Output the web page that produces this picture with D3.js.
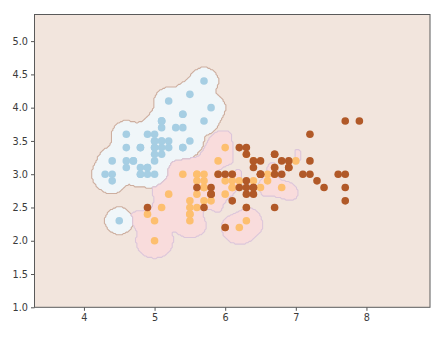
<!DOCTYPE html>
<html>
<head>
<meta charset="utf-8">
<script src="https://cdn.jsdelivr.net/npm/d3@7"></script>
<style>
  body { margin: 0; background: #fff; }
  svg { display: block; }
  .axis text { font-family: "DejaVu Sans", sans-serif; font-size: 9.7px; fill: #3a3a3a; }
  .axis line { stroke: #555; }
  .axis path { display: none; }
</style>
</head>
<body>
<svg id="chart" width="445" height="339"></svg>
<script>
// Iris: sepal length (x) vs sepal width (y), per species
const setosaLength = [5.1,4.9,4.7,4.6,5.0,5.4,4.6,5.0,4.4,4.9,5.4,4.8,4.8,4.3,5.8,5.7,5.4,5.1,5.7,5.1,5.4,5.1,4.6,5.1,4.8,5.0,5.0,5.2,5.2,4.7,4.8,5.4,5.2,5.5,4.9,5.0,5.5,4.9,4.4,5.1,5.0,4.5,4.4,5.0,5.1,4.8,5.1,4.6,5.3,5.0];
const setosaWidth = [3.5,3.0,3.2,3.1,3.6,3.9,3.4,3.4,2.9,3.1,3.7,3.4,3.0,3.0,4.0,4.4,3.9,3.5,3.8,3.8,3.4,3.7,3.6,3.3,3.4,3.0,3.4,3.5,3.4,3.2,3.1,3.4,4.1,4.2,3.1,3.2,3.5,3.6,3.0,3.4,3.5,2.3,3.2,3.5,3.8,3.0,3.8,3.2,3.7,3.3];
const versicolorLength = [7.0,6.4,6.9,5.5,6.5,5.7,6.3,4.9,6.6,5.2,5.0,5.9,6.0,6.1,5.6,6.7,5.6,5.8,6.2,5.6,5.9,6.1,6.3,6.1,6.4,6.6,6.8,6.7,6.0,5.7,5.5,5.5,5.8,6.0,5.4,6.0,6.7,6.3,5.6,5.5,5.5,6.1,5.8,5.0,5.6,5.7,5.7,6.2,5.1,5.7];
const versicolorWidth = [3.2,3.2,3.1,2.3,2.8,2.8,3.3,2.4,2.9,2.7,2.0,3.0,2.2,2.9,2.9,3.1,3.0,2.7,2.2,2.5,3.2,2.8,2.5,2.8,2.9,3.0,2.8,3.0,2.9,2.6,2.4,2.4,2.7,2.7,3.0,3.4,3.1,2.3,3.0,2.5,2.6,3.0,2.6,2.3,2.7,3.0,2.9,2.9,2.5,2.8];
const virginicaLength = [6.3,5.8,7.1,6.3,6.5,7.6,4.9,7.3,6.7,7.2,6.5,6.4,6.8,5.7,5.8,6.4,6.5,7.7,7.7,6.0,6.9,5.6,7.7,6.3,6.7,7.2,6.2,6.1,6.4,7.2,7.4,7.9,6.4,6.3,6.1,7.7,6.3,6.4,6.0,6.9,6.7,6.9,5.8,6.8,6.7,6.7,6.3,6.5,6.2,5.9];
const virginicaWidth = [3.3,2.7,3.0,2.9,3.0,3.0,2.5,2.9,2.5,3.6,3.2,2.7,3.0,2.5,2.8,3.2,3.0,3.8,2.6,2.2,3.2,2.8,2.8,2.7,3.3,3.2,2.8,3.0,2.8,3.0,2.8,3.8,2.8,2.8,2.6,3.0,3.4,3.1,3.0,3.1,3.1,3.1,2.7,3.2,3.3,3.0,2.5,3.0,3.4,3.0];

const xTicks = [4, 5, 6, 7, 8];
const yTicks = [1.0, 1.5, 2.0, 2.5, 3.0, 3.5, 4.0, 4.5, 5.0];

const pointColors = ["#a6cee3", "#fdbf6f", "#b15928"];
const regionFill = ["#f0f6f9", "#f9dcdc"];
const regionEdge = ["#cdae9f", "#dcc6da"];
const backgroundFill = "#f2e5dd";

// RBF SVM settings and mesh step
const gamma = 50, C = 1.0, step = 0.02;

const classes = [
  setosaLength.map((v, i) => [v, setosaWidth[i]]),
  versicolorLength.map((v, i) => [v, versicolorWidth[i]]),
  virginicaLength.map((v, i) => [v, virginicaWidth[i]])
];

const allX = [].concat(setosaLength, versicolorLength, virginicaLength);
const allY = [].concat(setosaWidth, versicolorWidth, virginicaWidth);
const xMin = d3.min(allX) - 1, xMax = d3.max(allX) + 1;
const yMin = d3.min(allY) - 1, yMax = d3.max(allY) + 1;

const svg = d3.select("#chart");
const margin = { left: 34.5, right: 15, top: 14.5, bottom: 31.7 };
const W = 445, H = 339;

const x = d3.scaleLinear().domain([xMin, xMax]).range([margin.left, W - margin.right]);
const y = d3.scaleLinear().domain([yMin, yMax]).range([H - margin.bottom, margin.top]);

function rbf(ax, ay, bx, by) {
  const dx = ax - bx, dy = ay - by;
  return Math.exp(-gamma * (dx * dx + dy * dy));
}

// Binary C-SVC solved with SMO (second-order working set selection)
function trainPair(pos, neg) {
  const pts = pos.concat(neg);
  const lab = pos.map(() => 1).concat(neg.map(() => -1));
  const n = pts.length;
  const K = [];
  for (let i = 0; i < n; i++) {
    K.push(new Float64Array(n));
    for (let j = 0; j < n; j++) K[i][j] = rbf(pts[i][0], pts[i][1], pts[j][0], pts[j][1]);
  }
  const a = new Float64Array(n);
  const G = new Float64Array(n).fill(-1);
  const eps = 1e-3, TAU = 1e-12;
  const isUp = t => a[t] >= C, isLow = t => a[t] <= 0;
  for (let iter = 0; iter < 200000; iter++) {
    let Gmax = -Infinity, i = -1;
    for (let t = 0; t < n; t++) {
      if (lab[t] === 1) { if (!isUp(t) && -G[t] >= Gmax) { Gmax = -G[t]; i = t; } }
      else { if (!isLow(t) && G[t] >= Gmax) { Gmax = G[t]; i = t; } }
    }
    let Gmax2 = -Infinity, j = -1, objMin = Infinity;
    for (let t = 0; t < n; t++) {
      if (lab[t] === 1) {
        if (!isLow(t)) {
          const gd = Gmax + G[t];
          if (G[t] >= Gmax2) Gmax2 = G[t];
          if (gd > 0 && i >= 0) {
            let q = 2 - 2 * K[i][t]; if (q <= 0) q = TAU;
            const od = -(gd * gd) / q;
            if (od <= objMin) { j = t; objMin = od; }
          }
        }
      } else {
        if (!isUp(t)) {
          const gd = Gmax - G[t];
          if (-G[t] >= Gmax2) Gmax2 = -G[t];
          if (gd > 0 && i >= 0) {
            let q = 2 - 2 * K[i][t]; if (q <= 0) q = TAU;
            const od = -(gd * gd) / q;
            if (od <= objMin) { j = t; objMin = od; }
          }
        }
      }
    }
    if (Gmax + Gmax2 < eps || j === -1) break;

    const oi = a[i], oj = a[j];
    const Qij = lab[i] * lab[j] * K[i][j];
    if (lab[i] !== lab[j]) {
      let q = 2 + 2 * Qij; if (q <= 0) q = TAU;
      const delta = (-G[i] - G[j]) / q;
      const diff = a[i] - a[j];
      a[i] += delta; a[j] += delta;
      if (diff > 0) { if (a[j] < 0) { a[j] = 0; a[i] = diff; } }
      else { if (a[i] < 0) { a[i] = 0; a[j] = -diff; } }
      if (diff > 0) { if (a[i] > C) { a[i] = C; a[j] = C - diff; } }
      else { if (a[j] > C) { a[j] = C; a[i] = C + diff; } }
    } else {
      let q = 2 - 2 * Qij; if (q <= 0) q = TAU;
      const delta = (G[i] - G[j]) / q;
      const sum = a[i] + a[j];
      a[i] -= delta; a[j] += delta;
      if (sum > C) { if (a[i] > C) { a[i] = C; a[j] = sum - C; } }
      else { if (a[j] < 0) { a[j] = 0; a[i] = sum; } }
      if (sum > C) { if (a[j] > C) { a[j] = C; a[i] = sum - C; } }
      else { if (a[i] < 0) { a[i] = 0; a[j] = sum; } }
    }
    const di = a[i] - oi, dj = a[j] - oj;
    for (let k = 0; k < n; k++) {
      G[k] += lab[i] * lab[k] * K[i][k] * di + lab[j] * lab[k] * K[j][k] * dj;
    }
  }
  // bias
  let ub = Infinity, lb = -Infinity, nFree = 0, sumFree = 0;
  for (let t = 0; t < n; t++) {
    const yG = lab[t] * G[t];
    if (isUp(t)) { if (lab[t] === -1) ub = Math.min(ub, yG); else lb = Math.max(lb, yG); }
    else if (isLow(t)) { if (lab[t] === 1) ub = Math.min(ub, yG); else lb = Math.max(lb, yG); }
    else { nFree++; sumFree += yG; }
  }
  const rho = nFree > 0 ? sumFree / nFree : (ub + lb) / 2;
  const sv = [];
  for (let t = 0; t < n; t++) if (a[t] > 0) sv.push({ px: pts[t][0], py: pts[t][1], coef: a[t] * lab[t] });
  return { sv, rho };
}

const pairs = [[0, 1], [0, 2], [1, 2]];
const models = pairs.map(([p, q]) => trainPair(classes[p], classes[q]));

// Predict on the mesh (one-vs-one voting)
const nx = Math.round((xMax - xMin) / step);
const ny = Math.round((yMax - yMin) / step);
const gx = d3.range(nx).map(i => xMin + i * step);
const gy = d3.range(ny).map(j => yMin + j * step);

const decisions = models.map(m => {
  const out = new Float64Array(nx * ny).fill(-m.rho);
  m.sv.forEach(s => {
    const ex = gx.map(v => Math.exp(-gamma * (v - s.px) * (v - s.px)));
    const ey = gy.map(v => Math.exp(-gamma * (v - s.py) * (v - s.py)));
    for (let r = 0; r < ny; r++) {
      const e = ey[r] * s.coef;
      if (Math.abs(e) < 1e-14) continue;
      const base = r * nx;
      for (let c = 0; c < nx; c++) out[base + c] += e * ex[c];
    }
  });
  return out;
});

const label = new Uint8Array(nx * ny);
for (let k = 0; k < nx * ny; k++) {
  const votes = [0, 0, 0];
  pairs.forEach(([p, q], m) => { if (decisions[m][k] > 0) votes[p]++; else votes[q]++; });
  let best = 0;
  for (let c = 1; c < 3; c++) if (votes[c] > votes[best]) best = c;
  label[k] = best;
}

// Clip region for the plot area
svg.append("defs").append("clipPath").attr("id", "plotClip")
  .append("rect")
  .attr("x", x(xMin)).attr("y", y(yMax))
  .attr("width", x(xMax) - x(xMin)).attr("height", y(yMin) - y(yMax));

const plot = svg.append("g").attr("clip-path", "url(#plotClip)");

plot.append("rect")
  .attr("x", x(xMin)).attr("y", y(yMax))
  .attr("width", x(xMax) - x(xMin)).attr("height", y(yMin) - y(yMax))
  .attr("fill", backgroundFill);

const meshProjection = d3.geoTransform({
  point(u, v) {
    this.stream.point(x(xMin + (u - 0.5) * step), y(yMin + (v - 0.5) * step));
  }
});
const meshPath = d3.geoPath(meshProjection);
const contourGen = d3.contours().size([nx, ny]).thresholds([0.5]);

[0, 1].forEach(c => {
  const indicator = Array.from(label, v => (v === c ? 1 : 0));
  const shapes = contourGen(indicator);
  plot.append("path")
    .datum(shapes[0])
    .attr("d", meshPath)
    .attr("fill", regionFill[c])
    .attr("stroke", regionEdge[c])
    .attr("stroke-width", 1.1)
    .attr("stroke-linejoin", "round");
});

// Scatter of the samples
const samples = [];
classes.forEach((pts, c) => pts.forEach(p => samples.push({ sx: p[0], sy: p[1], c })));
plot.append("g").selectAll("circle")
  .data(samples)
  .join("circle")
  .attr("cx", d => x(d.sx))
  .attr("cy", d => y(d.sy))
  .attr("r", 3.8)
  .attr("fill", d => pointColors[d.c]);

// Axes
svg.append("g")
  .attr("class", "axis")
  .attr("transform", `translate(0,${y(yMin)})`)
  .call(d3.axisBottom(x).tickValues(xTicks).tickFormat(d3.format("d")).tickSize(3.5).tickPadding(3));

svg.append("g")
  .attr("class", "axis")
  .attr("transform", `translate(${x(xMin)},0)`)
  .call(d3.axisLeft(y).tickValues(yTicks).tickFormat(d3.format(".1f")).tickSize(3.5).tickPadding(3));

svg.append("rect")
  .attr("x", x(xMin)).attr("y", y(yMax))
  .attr("width", x(xMax) - x(xMin)).attr("height", y(yMin) - y(yMax))
  .attr("fill", "none")
  .attr("stroke", "#5a5a5a")
  .attr("stroke-width", 1);
</script>
</body>
</html>
